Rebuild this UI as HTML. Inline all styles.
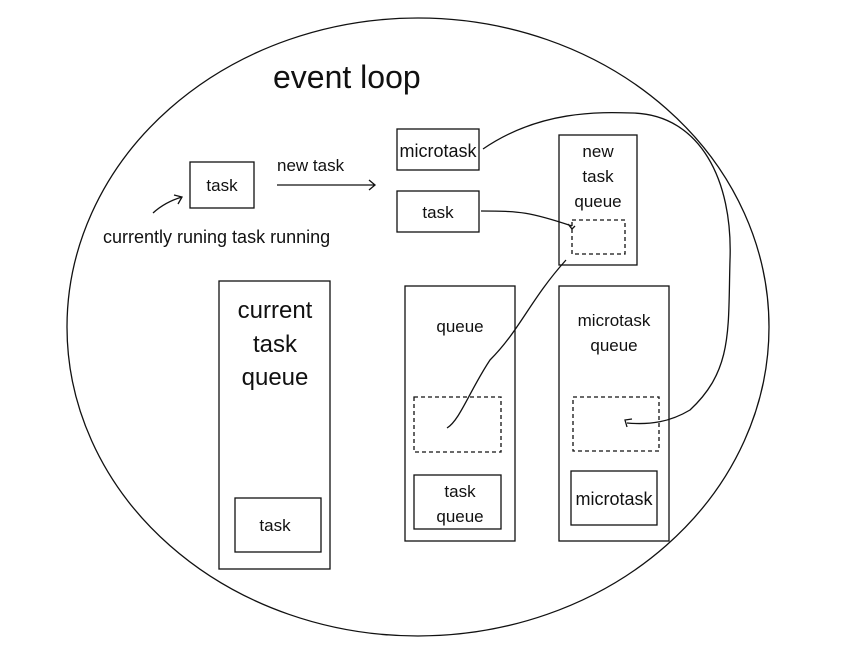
<!DOCTYPE html>
<html><head><meta charset="utf-8"><style>
html,body{margin:0;padding:0;background:#fff;width:861px;height:646px;overflow:hidden}
text{font-family:"Liberation Sans","DejaVu Sans",sans-serif;fill:#111}
</style></head><body>
<svg width="861" height="646" viewBox="0 0 861 646" xmlns="http://www.w3.org/2000/svg">
<g fill="none" stroke="#111" stroke-width="1.3">
<ellipse cx="418" cy="327" rx="351" ry="309"/>
<rect x="190" y="162" width="64" height="46"/>
<path d="M277 185 L375 185 M369 180 L375 185 L369 190"/>
<path d="M153 213 Q165 202 182 197 M174 195 L182 197 L178 204"/>
<rect x="397" y="129" width="82" height="41"/>
<rect x="397" y="191" width="82" height="41"/>
<rect x="559" y="135" width="78" height="130"/>
<rect x="572" y="220" width="53" height="34" stroke-dasharray="4,3"/>
<rect x="219" y="281" width="111" height="288"/>
<rect x="235" y="498" width="86" height="54"/>
<rect x="405" y="286" width="110" height="255"/>
<rect x="414" y="397" width="87" height="55" stroke-dasharray="4,3"/>
<rect x="414" y="475" width="87" height="54"/>
<rect x="559" y="286" width="110" height="255"/>
<rect x="573" y="397" width="86" height="54" stroke-dasharray="4,3"/>
<rect x="571" y="471" width="86" height="54"/>
<path d="M483 149 C540 110 600 112 633 113 C700 115 733 180 730 260 C728 330 733 370 690 410 C670 422 650 425 627 423 M627 427 L625 420 L632 419"/>
<path d="M481 211 C520 211 530 212 572 226 M568 224 L572 229 L575 226"/>
<path d="M566 260 C530 300 520 330 490 360 C470 390 460 420 447 428"/>
</g>
<text x="273" y="88" font-size="32">event loop</text>
<text x="222" y="191" font-size="17" text-anchor="middle">task</text>
<text x="277" y="171" font-size="17">new task</text>
<text x="103" y="243" font-size="18">currently runing task running</text>
<text x="438" y="157" font-size="18" text-anchor="middle">microtask</text>
<text x="438" y="218" font-size="17" text-anchor="middle">task</text>
<text x="598" y="157" font-size="17" text-anchor="middle">new</text>
<text x="598" y="182" font-size="17" text-anchor="middle">task</text>
<text x="598" y="207" font-size="17" text-anchor="middle">queue</text>
<text x="275" y="318" font-size="24" text-anchor="middle">current</text>
<text x="275" y="352" font-size="24" text-anchor="middle">task</text>
<text x="275" y="385" font-size="24" text-anchor="middle">queue</text>
<text x="275" y="531" font-size="17" text-anchor="middle">task</text>
<text x="460" y="332" font-size="17" text-anchor="middle">queue</text>
<text x="460" y="497" font-size="17" text-anchor="middle">task</text>
<text x="460" y="522" font-size="17" text-anchor="middle">queue</text>
<text x="614" y="326" font-size="17" text-anchor="middle">microtask</text>
<text x="614" y="351" font-size="17" text-anchor="middle">queue</text>
<text x="614" y="505" font-size="18" text-anchor="middle">microtask</text>
</svg>
</body></html>
